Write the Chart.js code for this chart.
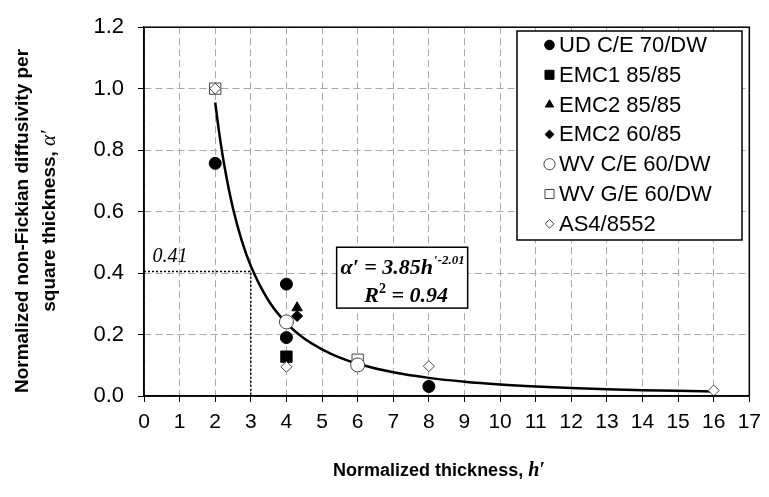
<!DOCTYPE html>
<html>
<head>
<meta charset="utf-8">
<script src="https://cdn.jsdelivr.net/npm/chart.js@4/dist/chart.umd.min.js"></script>
<style>
html, body { margin: 0; padding: 0; background: #fff; }
</style>
</head>
<body>
<canvas id="chart_canvas" width="769" height="497"></canvas>
<script>
// normalized thickness vs normalized non-fickian diffusivity

const series_names = [
  "UD C/E 70/DW", "EMC1 85/85", "EMC2 85/85", "EMC2 60/85",
  "WV C/E 60/DW", "WV G/E 60/DW", "AS4/8552"
];

// points (h', alpha')
const ud_ce_h = [2, 4, 4, 8];
const ud_ce_a = [0.757, 0.364, 0.19, 0.031];
const emc1_h = [4];
const emc1_a = [0.128];
const emc2_85_h = [4.3];
const emc2_85_a = [0.287];
const emc2_60_h = [4.3];
const emc2_60_a = [0.26];
const wv_ce_h = [4, 6];
const wv_ce_a = [0.241, 0.101];
const wv_ge_h = [2, 6];
const wv_ge_a = [1.0, 0.118];
const as4_h = [2, 4, 8, 16];
const as4_a = [1.0, 0.095, 0.097, 0.018];

// the power law trend line
const fit_h = [2, 2.1, 2.25, 2.5, 2.75, 3, 3.5, 4, 4.5, 5, 5.5, 6, 7, 8, 9, 10, 11, 12, 13, 14, 15, 16];
const fit_a = [0.955, 0.866, 0.754, 0.61, 0.504, 0.423, 0.31, 0.237, 0.187, 0.152, 0.125, 0.105,
  0.077, 0.059, 0.0465, 0.0376, 0.031, 0.026, 0.0222, 0.0191, 0.0167, 0.0147];

// dotted guide at 0.41
const guide_h = [0, 3, 3];
const guide_a = [0.405, 0.405, 0];

const x_ticks = [0, 17, 1];
const y_ticks = [0, 1.2, 0.2];

const eq_text = "\u03b1\u2032 = 3.85h";
const eq_sup = "\u2032-2.01";
const r2_text = " = 0.94";
const guide_label = "0.41";

function pts(hs, as) {
  return hs.map((h, i) => ({ x: h, y: as[i] }));
}

function marker(name, hs, as, style, filled, r, ord) {
  return {
    label: name,
    data: pts(hs, as),
    showLine: false,
    pointStyle: style,
    pointRadius: r,
    pointHoverRadius: r,
    pointBackgroundColor: filled ? "#000" : "#fff",
    pointBorderColor: filled ? "#000" : "#444",
    pointBorderWidth: 1,
    order: ord || 0,
    in_legend: true
  };
}

const datasets = [
  marker(series_names[0], ud_ce_h, ud_ce_a, "circle", true, 6),
  marker(series_names[1], emc1_h, emc1_a, "rect", true, 8),
  marker(series_names[2], emc2_85_h, emc2_85_a, "triangle", true, 6),
  marker(series_names[3], emc2_60_h, emc2_60_a, "rectRot", true, 5.5),
  marker(series_names[4], wv_ce_h, wv_ce_a, "circle", false, 7),
  marker(series_names[5], wv_ge_h, wv_ge_a, "rect", false, 8),
  marker(series_names[6], as4_h, as4_a, "rectRot", false, 5.5, -1),
  {
    label: "fit",
    data: pts(fit_h, fit_a),
    showLine: true,
    borderColor: "#000",
    borderWidth: 2.5,
    pointRadius: 0,
    cubicInterpolationMode: "monotone",
    order: 10
  },
  {
    label: "guide",
    data: pts(guide_h, guide_a),
    showLine: true,
    borderColor: "#000",
    borderWidth: 1.5,
    borderDash: [2, 2],
    pointRadius: 0,
    order: 11
  }
];

// text bits, box, legend
const extras = {
  id: "extras",
  afterDraw(chart) {
    const ctx = chart.ctx;
    const ca = chart.chartArea;
    const xs = chart.scales.x;
    const ys = chart.scales.y;
    ctx.save();

    // plot frame
    ctx.strokeStyle = "#000";
    ctx.lineWidth = 1.5;
    ctx.strokeRect(ca.left, ca.top, ca.right - ca.left, ca.bottom - ca.top);

    // 0.41 label
    ctx.fillStyle = "#000";
    ctx.font = "italic 20px 'Liberation Serif'";
    ctx.textBaseline = "alphabetic";
    ctx.textAlign = "left";
    ctx.fillText(guide_label, xs.getPixelForValue(0.24), ys.getPixelForValue(0.435));

    // equation box
    let bl = xs.getPixelForValue(5.41), br = xs.getPixelForValue(9.09);
    let bt = ys.getPixelForValue(0.484), bb = ys.getPixelForValue(0.286);
    ctx.fillStyle = "#fff";
    ctx.fillRect(bl, bt, br - bl, bb - bt);
    ctx.strokeStyle = "#000";
    ctx.lineWidth = 1.5;
    ctx.strokeRect(bl, bt, br - bl, bb - bt);
    ctx.fillStyle = "#000";
    ctx.font = "italic bold 22px 'Liberation Serif'";
    let w1 = ctx.measureText(eq_text).width;
    ctx.font = "italic bold 13px 'Liberation Serif'";
    let w2 = ctx.measureText(eq_sup).width;
    let lx = (bl + br) / 2 - (w1 + w2) / 2;
    ctx.font = "italic bold 22px 'Liberation Serif'";
    ctx.fillText(eq_text, lx, bt + 27);
    ctx.font = "italic bold 13px 'Liberation Serif'";
    ctx.fillText(eq_sup, lx + w1 + 1, bt + 17);
    ctx.font = "italic bold 22px 'Liberation Serif'";
    let wr = ctx.measureText("R").width;
    let wq = ctx.measureText(r2_text).width;
    ctx.font = "bold 14px 'Liberation Serif'";
    let ws = ctx.measureText("2").width;
    let rx = (bl + br) / 2 - (wr + ws + wq) / 2 + 4;
    ctx.font = "italic bold 22px 'Liberation Serif'";
    ctx.fillText("R", rx, bt + 55);
    ctx.fillText(r2_text, rx + wr + ws, bt + 55);
    ctx.font = "bold 14px 'Liberation Serif'";
    ctx.fillText("2", rx + wr, bt + 46);

    // legend box
    let ll = 517, lt = 31, lr = 742, lb = 240;
    ctx.fillStyle = "#fff";
    ctx.fillRect(ll, lt, lr - ll, lb - lt);
    ctx.strokeStyle = "#000";
    ctx.lineWidth = 1.5;
    ctx.strokeRect(ll, lt, lr - ll, lb - lt);
    let row = 0;
    chart.data.datasets.forEach(ds => {
      if (!ds.in_legend) return;
      let cy = 45 + row * 29.8;
      ctx.fillStyle = ds.pointBackgroundColor;
      ctx.strokeStyle = ds.pointBorderColor;
      ctx.lineWidth = 1;
      Chart.helpers.drawPoint(ctx, {
        pointStyle: ds.pointStyle,
        radius: ds.pointRadius * 0.8,
        rotation: 0,
        borderWidth: 1
      }, 549.5, cy);
      ctx.fillStyle = "#000";
      ctx.font = "22px 'Liberation Sans'";
      ctx.textBaseline = "middle";
      ctx.fillText(ds.label, 559, cy + 1);
      row++;
    });

    // x title
    ctx.textBaseline = "alphabetic";
    ctx.fillStyle = "#000";
    let t1 = "Normalized thickness, ";
    ctx.font = "bold 18px 'Liberation Sans'";
    let tw1 = ctx.measureText(t1).width;
    ctx.font = "italic bold 20px 'Liberation Serif'";
    let tw2 = ctx.measureText("h\u2032").width;
    let tx = 439 - (tw1 + tw2) / 2;
    ctx.font = "bold 18px 'Liberation Sans'";
    ctx.fillText(t1, tx, 476);
    ctx.font = "italic bold 20px 'Liberation Serif'";
    ctx.fillText("h\u2032", tx + tw1, 476);

    // y title, two lines
    ctx.translate(0, 221);
    ctx.rotate(-Math.PI / 2);
    ctx.textAlign = "center";
    ctx.font = "bold 19px 'Liberation Sans'";
    ctx.fillText("Normalized non-Fickian diffusivity per", 0, 28);
    let s1 = "square thickness, ";
    let sw1 = ctx.measureText(s1).width;
    ctx.font = "italic 21px 'Liberation Serif'";
    let sw2 = ctx.measureText("\u03b1\u2032").width;
    ctx.textAlign = "left";
    ctx.font = "bold 19px 'Liberation Sans'";
    ctx.fillText(s1, -(sw1 + sw2) / 2, 55);
    ctx.font = "italic 21px 'Liberation Serif'";
    ctx.fillText("\u03b1\u2032", -(sw1 + sw2) / 2 + sw1, 55);

    ctx.restore();
  }
};

const chart_canvas = document.getElementById("chart_canvas");
const chart = new Chart(chart_canvas.getContext("2d"), {
  type: "scatter",
  data: { datasets: datasets },
  plugins: [extras],
  options: {
    responsive: false,
    animation: false,
    layout: { padding: { top: 22, right: 15, left: 0, bottom: 0 } },
    plugins: {
      legend: { display: false },
      tooltip: { enabled: false }
    },
    scales: {
      x: {
        type: "linear",
        min: x_ticks[0],
        max: x_ticks[1],
        afterFit: s => { s.height = 101; },
        ticks: {
          stepSize: x_ticks[2],
          color: "#000",
          padding: 8,
          font: { family: "'Liberation Sans'", size: 21 }
        },
        grid: { color: "#a8a8a8", tickColor: "#000", tickLength: 6, lineWidth: 1 },
        border: { color: "#000", width: 1.5, dash: [7, 4] }
      },
      y: {
        type: "linear",
        min: y_ticks[0],
        max: y_ticks[1],
        afterFit: s => { s.width = 144; },
        ticks: {
          stepSize: y_ticks[2],
          color: "#000",
          padding: 14,
          font: { family: "'Liberation Sans'", size: 22 },
          callback: v => v.toFixed(1)
        },
        grid: { color: "#a8a8a8", tickColor: "#000", tickLength: 6, lineWidth: 1 },
        border: { color: "#000", width: 1.5, dash: [7, 4] }
      }
    }
  }
});
</script>
</body>
</html>
